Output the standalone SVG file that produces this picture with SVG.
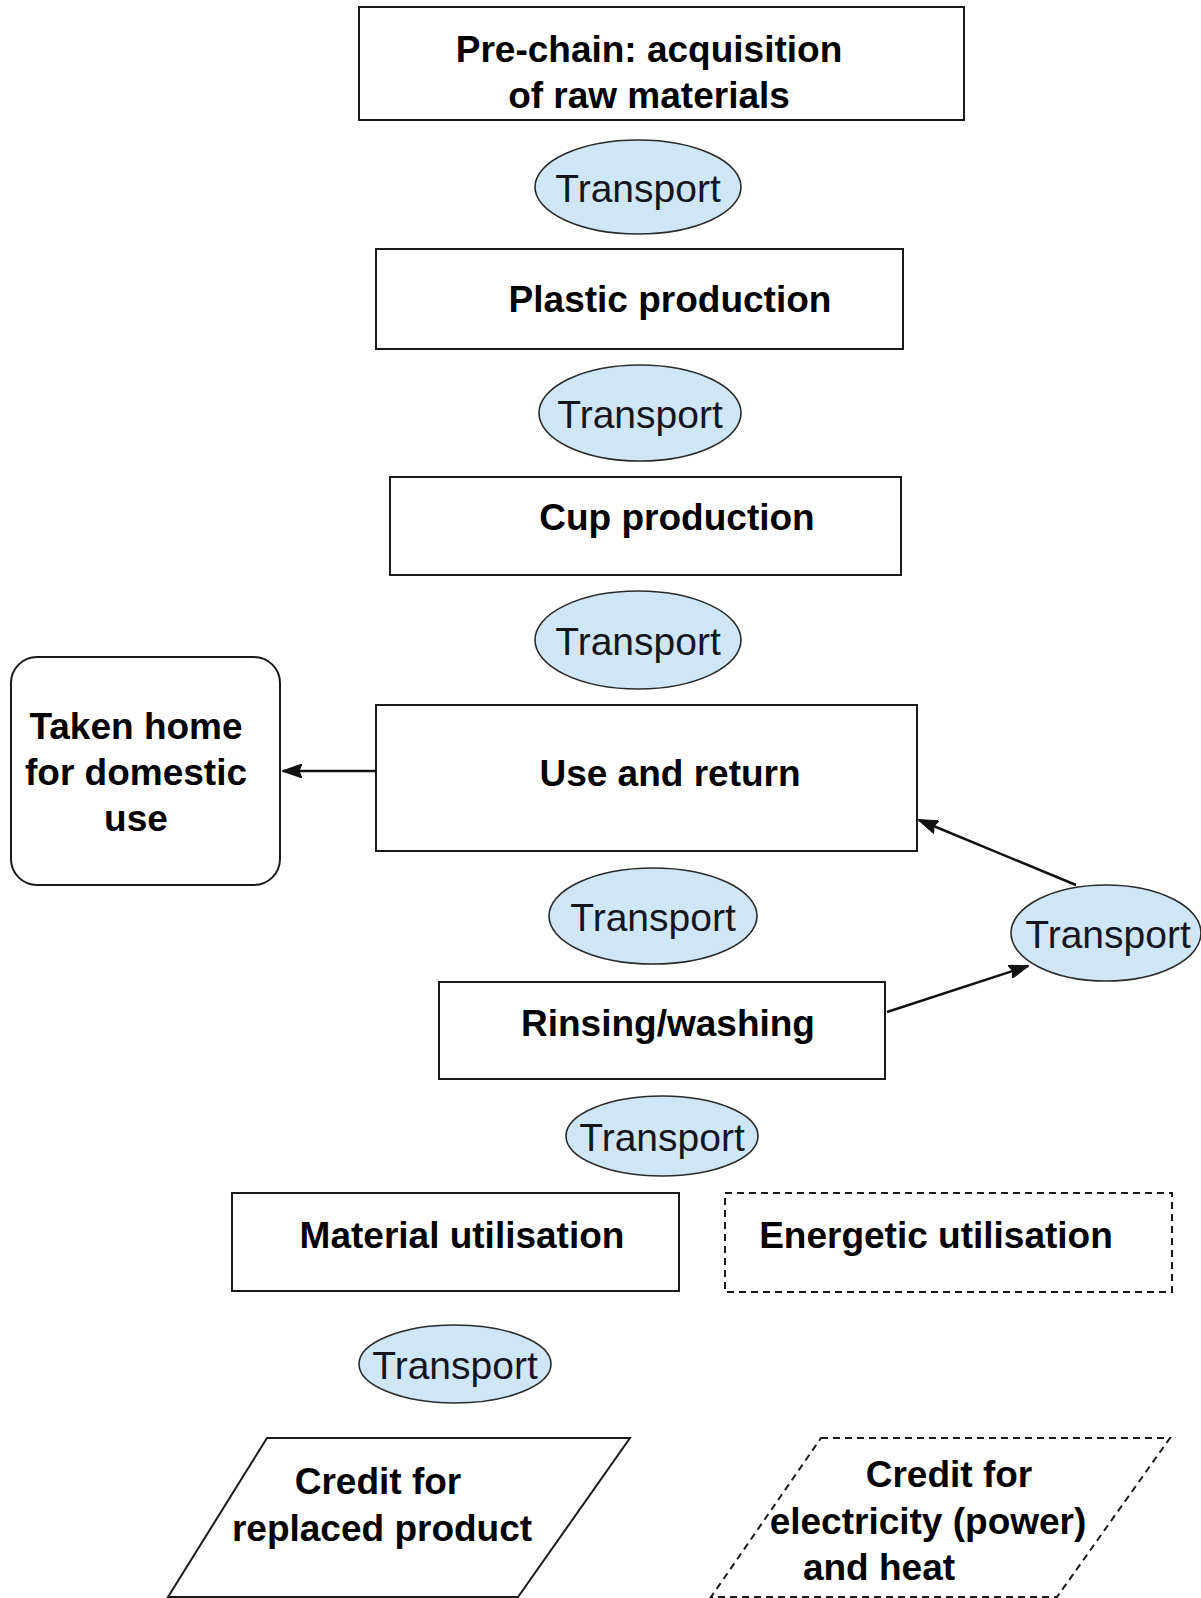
<svg xmlns="http://www.w3.org/2000/svg" width="1201" height="1598" viewBox="0 0 1201 1598">
  <defs>
    <style>
      .box { fill: #ffffff; stroke: #1a1a1a; stroke-width: 2; }
      .dash { fill: #ffffff; stroke: #1a1a1a; stroke-width: 2; stroke-dasharray: 7 5; }
      .oval { fill: #cfe6f6; stroke: #2a2a2a; stroke-width: 1.6; }
      .lbl { font-family: "Liberation Sans", Arial, sans-serif; font-weight: bold; font-size: 37px; fill: #000; text-anchor: middle; }
      .tr { font-family: "Liberation Sans", Arial, sans-serif; font-size: 39px; fill: #15151f; text-anchor: middle; }
      .link { stroke: #111; stroke-width: 2.5; fill: none; marker-end: url(#head); }
    </style>
    <marker id="head" viewBox="0 0 20 14" refX="19" refY="7" markerWidth="20" markerHeight="14" orient="auto" markerUnits="userSpaceOnUse">
      <path d="M0,0 L20,7 L0,14 L3,7 z" fill="#111" stroke="#111" stroke-width="1"/>
    </marker>
  </defs>

  <rect width="1201" height="1598" fill="#ffffff"/>

  <!-- process chain -->
  <g id="prechain">
    <rect class="box" x="359" y="7" width="605" height="113"/>
    <text class="lbl" x="649" y="62">Pre-chain: acquisition</text>
    <text class="lbl" x="649" y="108">of raw materials</text>
  </g>

  <g id="transport1">
    <ellipse class="oval" cx="638" cy="187" rx="103" ry="47"/>
    <text class="tr" x="638" y="202">Transport</text>
  </g>

  <g id="plastic">
    <rect class="box" x="376" y="249" width="527" height="100"/>
    <text class="lbl" x="670" y="312">Plastic production</text>
  </g>

  <g id="transport2">
    <ellipse class="oval" cx="640" cy="413" rx="101" ry="48"/>
    <text class="tr" x="640" y="428">Transport</text>
  </g>

  <g id="cup">
    <rect class="box" x="390" y="477" width="511" height="98"/>
    <text class="lbl" x="677" y="530">Cup production</text>
  </g>

  <g id="transport3">
    <ellipse class="oval" cx="638" cy="640" rx="103" ry="49"/>
    <text class="tr" x="638" y="655">Transport</text>
  </g>

  <g id="use">
    <rect class="box" x="376" y="705" width="541" height="146"/>
    <text class="lbl" x="670" y="786">Use and return</text>
  </g>

  <g id="home">
    <rect class="box" x="11" y="657" width="269" height="228" rx="26" ry="26"/>
    <text class="lbl" x="136" y="739">Taken home</text>
    <text class="lbl" x="136" y="785">for domestic</text>
    <text class="lbl" x="136" y="831">use</text>
  </g>

  <g id="transport4">
    <ellipse class="oval" cx="653" cy="916" rx="104" ry="48"/>
    <text class="tr" x="653" y="931">Transport</text>
  </g>

  <g id="transport5">
    <ellipse class="oval" cx="1106" cy="933" rx="95" ry="48"/>
    <text class="tr" x="1108" y="948">Transport</text>
  </g>

  <g id="rinsing">
    <rect class="box" x="439" y="982" width="446" height="97"/>
    <text class="lbl" x="668" y="1036">Rinsing/washing</text>
  </g>

  <g id="transport6">
    <ellipse class="oval" cx="662" cy="1136" rx="96" ry="40"/>
    <text class="tr" x="662" y="1151">Transport</text>
  </g>

  <g id="material">
    <rect class="box" x="232" y="1193" width="447" height="98"/>
    <text class="lbl" x="462" y="1248">Material utilisation</text>
  </g>

  <g id="energetic">
    <rect class="dash" x="725" y="1193" width="447" height="99"/>
    <text class="lbl" x="936" y="1248">Energetic utilisation</text>
  </g>

  <g id="transport7">
    <ellipse class="oval" cx="455" cy="1364" rx="96" ry="39"/>
    <text class="tr" x="455" y="1379">Transport</text>
  </g>

  <g id="credit-product">
    <polygon class="box" points="267,1438 630,1438 518,1597 168,1597"/>
    <text class="lbl" x="378" y="1494">Credit for</text>
    <text class="lbl" x="382" y="1541">replaced product</text>
  </g>

  <g id="credit-energy">
    <polygon class="dash" points="821,1438 1170,1438 1057,1597 711,1597"/>
    <text class="lbl" x="949" y="1487">Credit for</text>
    <text class="lbl" x="928" y="1534">electricity (power)</text>
    <text class="lbl" x="879" y="1580">and heat</text>
  </g>

  <!-- connectors -->
  <g id="connectors">
    <line class="link" x1="376" y1="771" x2="283" y2="771"/>
    <line class="link" x1="1076" y1="885" x2="919" y2="820"/>
    <line class="link" x1="887" y1="1012" x2="1028" y2="966"/>
  </g>
</svg>
